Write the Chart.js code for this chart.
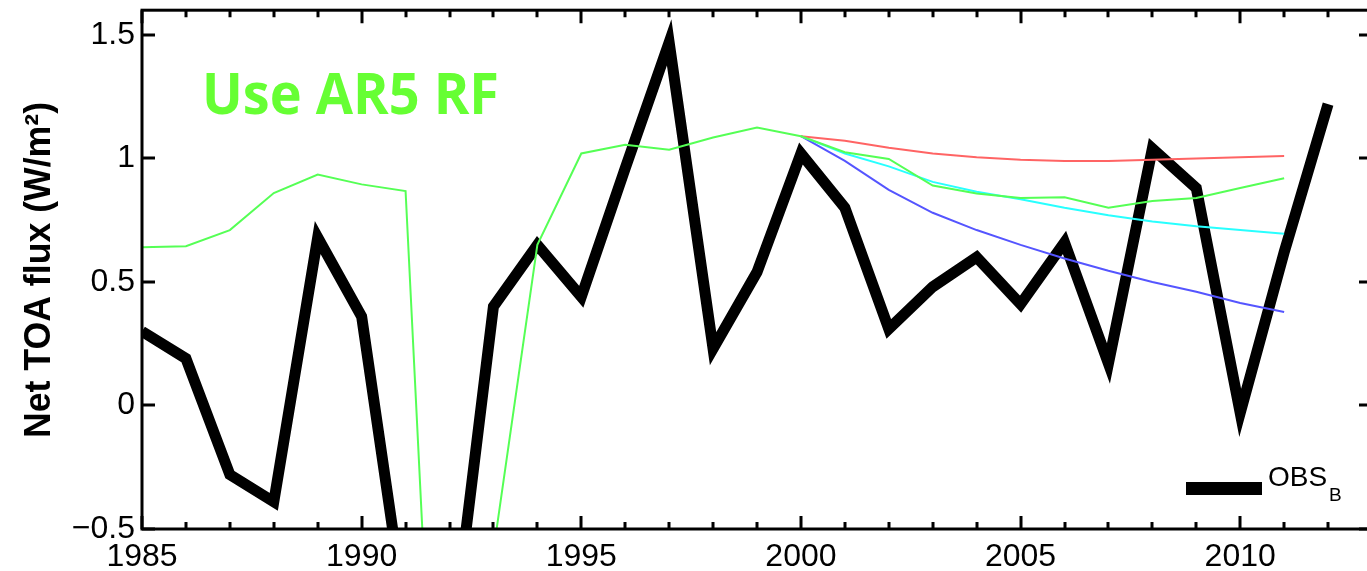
<!DOCTYPE html>
<html>
<head>
<meta charset="utf-8">
<script src="https://cdn.jsdelivr.net/npm/chart.js@4.4.1/dist/chart.umd.min.js"></script>
<style>
  html, body { margin: 0; padding: 0; background: #fff; overflow: hidden; width: 1367px; height: 571px; }
  #wrap { position: relative; width: 1367px; height: 571px; overflow: hidden; }
  #chart { position: absolute; left: 0; top: 0; }
</style>
</head>
<body>
<div id="wrap"><canvas id="chart" width="1380" height="571"></canvas></div>
<script>
// -----------------------------
// Data
// -----------------------------
const years = [1985, 1986, 1987, 1988, 1989, 1990, 1991, 1992, 1993, 1994,
               1995, 1996, 1997, 1998, 1999, 2000, 2001, 2002, 2003, 2004,
               2005, 2006, 2007, 2008, 2009, 2010, 2011, 2012];
const obsB = [0.30, 0.19, -0.28, -0.39, 0.68, 0.36, -0.86, -1.05, 0.40, 0.65,
              0.44, 0.96, 1.47, 0.23, 0.54, 1.02, 0.80, 0.31, 0.48, 0.60,
              0.41, 0.66, 0.17, 1.04, 0.88, -0.03, 0.62, 1.22];

const modelYears = [1985, 1986, 1987, 1988, 1989, 1990, 1991, 1992, 1993, 1994,
                    1995, 1996, 1997, 1998, 1999, 2000, 2001, 2002, 2003, 2004,
                    2005, 2006, 2007, 2008, 2009, 2010, 2011];
const modelGreen = [0.64, 0.645, 0.71, 0.86, 0.935, 0.895, 0.868, -2.72, -0.59, 0.65,
                    1.02, 1.055, 1.035, 1.085, 1.125, 1.09, 1.025, 0.998, 0.89, 0.858,
                    0.84, 0.843, 0.80, 0.828, 0.84, 0.88, 0.92];

const projYears = [2000, 2001, 2002, 2003, 2004, 2005, 2006, 2007, 2008, 2009, 2010, 2011];
const projRed  = [1.09, 1.072, 1.043, 1.02, 1.005, 0.995, 0.99, 0.99, 0.995, 1.0, 1.005, 1.01];
const projCyan = [1.09, 1.02, 0.968, 0.905, 0.865, 0.835, 0.80, 0.77, 0.745, 0.725, 0.71, 0.695];
const projBlue = [1.09, 0.99, 0.873, 0.78, 0.71, 0.65, 0.595, 0.545, 0.50, 0.46, 0.415, 0.378];

const yTicks = [-0.5, 0, 0.5, 1, 1.5];
const xLabelYears = [1985, 1990, 1995, 2000, 2005, 2010];

const FONT = "'Liberation Sans', Arial, Helvetica, sans-serif";

function pairs(xs, ys) {
    return ys.map((v, i) => ({ x: xs[i], y: v }));
}

// -----------------------------
// Frame, inward ticks, labels, text
// -----------------------------
const decorations = {
    id: 'decorations',
    afterDraw(chart) {
        const ctx = chart.ctx;
        const ca = chart.chartArea;
        const xs = chart.scales.x;
        const ys = chart.scales.y;
        ctx.save();
        ctx.strokeStyle = '#000';
        ctx.lineWidth = 3;
        ctx.strokeRect(ca.left, ca.top, ca.right - ca.left, ca.bottom - ca.top);

        // x ticks (every year, longer every 5)
        xs.ticks.forEach(t => {
            const px = Math.round(xs.getPixelForValue(t.value));
            const len = t.value % 5 === 0 ? 13 : 7;
            ctx.beginPath();
            ctx.moveTo(px, ca.bottom); ctx.lineTo(px, ca.bottom - len);
            ctx.moveTo(px, ca.top); ctx.lineTo(px, ca.top + len);
            ctx.stroke();
        });
        // y ticks, both sides
        yTicks.forEach(v => {
            const py = Math.round(ys.getPixelForValue(v));
            ctx.beginPath();
            ctx.moveTo(ca.left, py); ctx.lineTo(ca.left + 13, py);
            ctx.moveTo(ca.right, py); ctx.lineTo(ca.right - 13, py);
            ctx.stroke();
        });

        // x labels
        ctx.fillStyle = '#000';
        ctx.font = '32px ' + FONT;
        ctx.textAlign = 'center';
        ctx.textBaseline = 'alphabetic';
        xLabelYears.forEach(v => {
            ctx.fillText(String(v), xs.getPixelForValue(v), 566);
        });

        // "Use AR5 RF"
        ctx.fillStyle = 'rgb(102,255,51)';
        ctx.font = "bold 58px 'Open Sans', sans-serif";
        ctx.textAlign = 'left';
        let w = ctx.measureText('Use AR5 RF').width;
        ctx.save();
        ctx.translate(202, 114);
        ctx.scale(297 / w, 1);
        ctx.fillText('Use AR5 RF', 0, 0);
        ctx.restore();

        // legend
        ctx.fillStyle = '#000';
        ctx.fillRect(1186, 482, 76, 13);
        ctx.font = '28px ' + FONT;
        ctx.fillText('OBS', 1268, 486);
        ctx.font = '19px ' + FONT;
        ctx.fillText('B', 1329, 501);

        // y axis title
        ctx.font = 'bold 36px ' + FONT;
        const title = 'Net TOA flux (W/m²)';
        w = ctx.measureText(title).width;
        ctx.save();
        ctx.translate(50, 270);
        ctx.rotate(-Math.PI / 2);
        ctx.scale(336 / w, 1);
        ctx.textAlign = 'center';
        ctx.fillText(title, 0, 0);
        ctx.restore();

        ctx.restore();
    }
};

// -----------------------------
// Chart.js
// -----------------------------
const thin = (data, color) => ({
    data: data,
    borderColor: color,
    borderWidth: 2,
    pointRadius: 0,
    tension: 0,
    clip: 0,
    order: 1
});

new Chart(document.getElementById('chart'), {
    type: 'line',
    data: {
        datasets: [
            { label: 'OBS_B', data: pairs(years, obsB), borderColor: '#000', borderWidth: 11,
              pointRadius: 0, tension: 0, clip: 0, order: 10 },
            thin(pairs(modelYears, modelGreen), 'rgb(85,255,85)'),
            thin(pairs(projYears, projRed), 'rgb(255,100,100)'),
            thin(pairs(projYears, projCyan), 'rgb(40,255,255)'),
            thin(pairs(projYears, projBlue), 'rgb(85,85,255)')
        ]
    },
    options: {
        responsive: false,
        animation: false,
        layout: { padding: { left: 0, right: 8, top: 8, bottom: 0 } },
        plugins: { legend: { display: false }, tooltip: { enabled: false } },
        scales: {
            x: {
                type: 'linear',
                min: 1985,
                max: 2013,
                grid: { display: false, drawTicks: false },
                border: { display: false },
                afterFit: s => { s.height = 42; },
                ticks: { display: false, stepSize: 1 }
            },
            y: {
                min: -0.5,
                max: 1.6,
                grid: { display: false, drawTicks: false },
                border: { display: false },
                afterFit: s => { s.width = 142; },
                ticks: {
                    stepSize: 0.5,
                    includeBounds: false,
                    padding: 7,
                    color: '#000',
                    font: { family: FONT, size: 32, lineHeight: 0.2 },
                    callback: v => yTicks.includes(v) ? (v < 0 ? '−' + Math.abs(v) : String(v)) : ''
                }
            }
        }
    },
    plugins: [decorations]
});
</script>
</body>
</html>
